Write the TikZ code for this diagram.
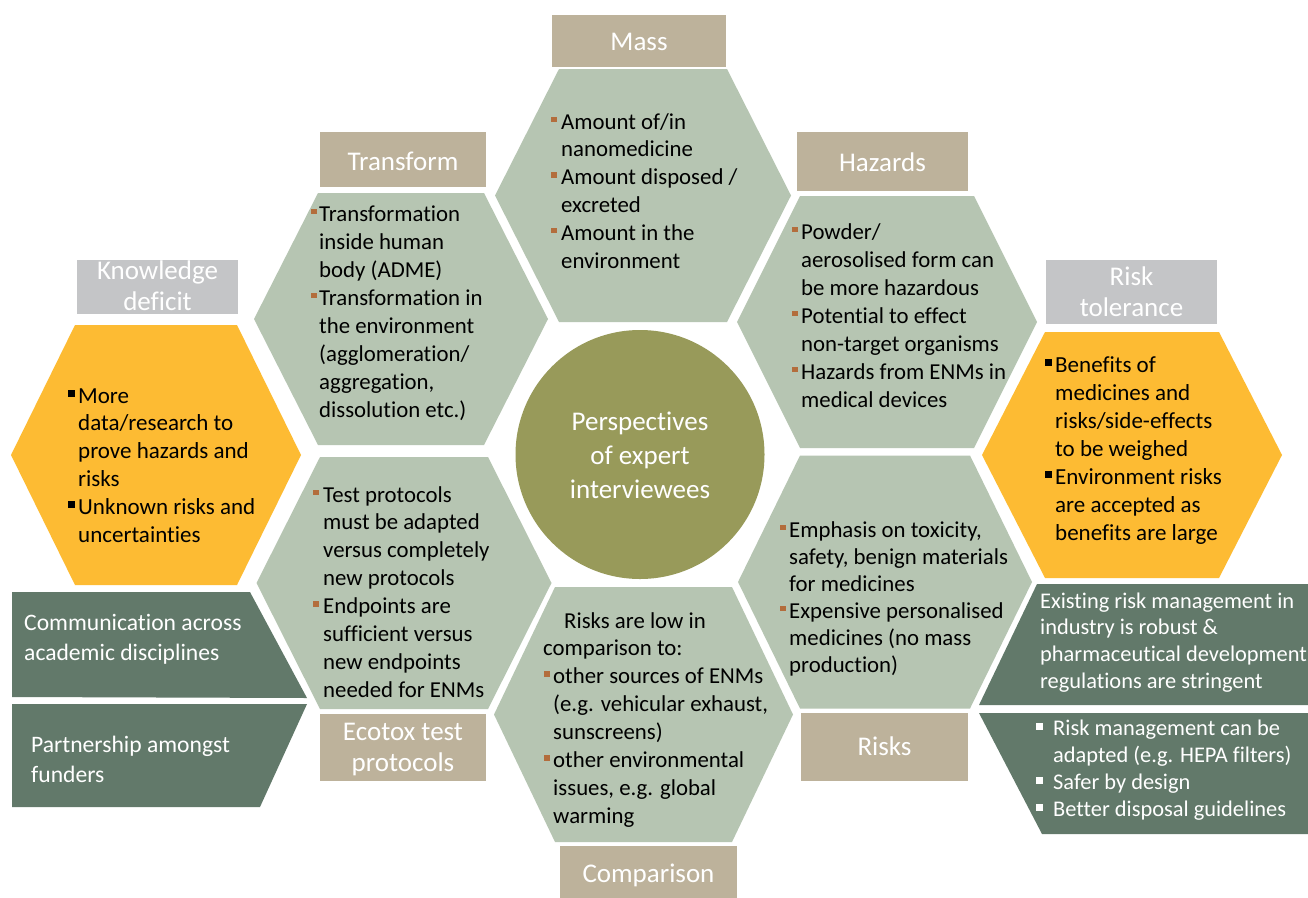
\documentclass[tikz,border=0pt]{standalone}
\usepackage{fontspec}
\setmainfont{Carlito}[Ligatures={TeX,NoCommon}]
\definecolor{sage}{HTML}{B6C5B2}
\definecolor{labeltan}{HTML}{BDB29B}
\definecolor{labelgray}{HTML}{C4C5C7}
\definecolor{gold}{HTML}{FDBB33}
\definecolor{darkgreen}{HTML}{62796A}
\definecolor{olivecirc}{HTML}{989A5A}
\definecolor{bulbrown}{HTML}{B36D3C}
% bullet: width of bullet box, colour, raise, size
\newcommand\bb[4]{\makebox[#1][l]{\textcolor{#2}{\rule[#3]{#4}{#4}}}}
\newcommand\sq[1]{\bb{#1}{bulbrown}{7pt}{5.5pt}}
\newcommand\ksq{\bb{10pt}{black}{6pt}{7pt}}
\newcommand\wsq{\bb{17pt}{white}{5.5pt}{7pt}}
\newcommand\ind[1]{\hspace*{#1}}
% hexagon: cx cy halfwidth halftop halfheight colour
\newcommand\hexcell[6]{\fill[#6] ({#1-#3},#2) -- ({#1-#4},{#2-#5}) -- ({#1+#4},{#2-#5}) -- ({#1+#3},#2) -- ({#1+#4},{#2+#5}) -- ({#1-#4},{#2+#5}) -- cycle;}
\begin{document}
\begin{tikzpicture}[x=1pt,y=-1pt,
  body/.style={anchor=base west, inner sep=0pt, text=black},
  lbl/.style={anchor=base, inner sep=0pt, text=white},
  tanbox/.style={fill=labeltan, inner sep=0pt},
  graybox/.style={fill=labelgray, inner sep=0pt}]
\useasboundingbox (0,0) rectangle (1308,897);
\fill[white] (0,0) rectangle (1308,897);

% ---------- hexagons ----------
\hexcell{643}{195.5}{148}{84}{126.5}{sage}    % Mass
\hexcell{401}{319}{147}{83}{126}{sage}        % Transform
\hexcell{887}{322}{150}{87}{126}{sage}        % Hazards
\hexcell{404}{583}{147.5}{84}{126}{sage}      % Ecotox
\hexcell{885}{582}{147}{85}{126.5}{sage}      % Risks
\hexcell{643.5}{714.5}{149.5}{88.5}{127.5}{sage} % Comparison
\hexcell{156}{455}{145}{81}{130}{gold}        % Knowledge deficit
\hexcell{1132}{455}{150}{87}{123}{gold}       % Risk tolerance

% ---------- dark green arrow pieces ----------
\fill[darkgreen] (12,592) -- (250,592) -- (307,698) -- (12,697) -- cycle;
\fill[darkgreen] (12,704) -- (307,704) -- (260,807) -- (12,807) -- cycle;
\fill[darkgreen] (1037,584) -- (1320,584) -- (1320,705) -- (979,705) -- cycle;
\fill[darkgreen] (979,713) -- (1320,713) -- (1320,834) -- (1042,834) -- cycle;

% ---------- centre circle ----------
\node[circle, fill=olivecirc, minimum size=249pt, inner sep=0pt] (centre) at (640,454.5) {};
\node[lbl, font=\fontsize{27}{34}\selectfont] (centretxt) at (640,430)
  {\parbox[t]{240pt}{\centering Perspectives\\of expert\\interviewees}};

% ---------- label boxes ----------
\node[tanbox, minimum width=174pt, minimum height=52pt] (massbox) at (639,41) {};
\node[tanbox, minimum width=166pt, minimum height=55pt] (transbox) at (403,159.5) {};
\node[tanbox, minimum width=171pt, minimum height=59pt] (hazbox) at (882.5,161.5) {};
\node[tanbox, minimum width=166pt, minimum height=67pt] (ecobox) at (403,747.5) {};
\node[tanbox, minimum width=167pt, minimum height=68pt] (riskbox) at (884.5,747) {};
\node[tanbox, minimum width=177pt, minimum height=60pt] (compbox) at (648.5,876) {};
\node[graybox, minimum width=161pt, minimum height=54pt] (kdbox) at (157.5,287) {};
\node[graybox, minimum width=171pt, minimum height=64pt] (rtbox) at (1131.5,292) {};

\begin{scope}[every node/.append style={font=\fontsize{27}{31.5}\selectfont}]
\node[lbl] (masslbl) at (639,50) {Mass};
\node[lbl] (translbl) at (403,170) {Transform};
\node[lbl] (hazlbl) at (882.5,171) {Hazards};
\node[lbl] (ecolbl) at (403,740) {\parbox[t]{200pt}{\centering Ecotox test\\protocols}};
\node[lbl] (risklbl) at (884.5,755) {Risks};
\node[lbl] (complbl) at (648.5,882) {Comparison};
\node[lbl] (kdlbl) at (157.5,279) {\parbox[t]{200pt}{\centering Knowledge\\deficit}};
\node[lbl] (rtlbl) at (1131.5,285) {\parbox[t]{200pt}{\centering Risk\\tolerance}};
\end{scope}

% ---------- hexagon texts ----------
\node[body, font=\fontsize{22.8}{27.8}\selectfont] (masstxt) at (551,129)
 {\parbox[t]{300pt}{\raggedright
 \sq{10pt}Amount of/in\\ \ind{10pt}nanomedicine\\
 \sq{10pt}Amount disposed /\\ \ind{10pt}excreted\\
 \sq{10pt}Amount in the\\ \ind{10pt}environment}};

\node[body, font=\fontsize{22.8}{28}\selectfont] (transtxt) at (311,221)
 {\parbox[t]{300pt}{\raggedright
 \sq{8pt}Transformation\\ \ind{8pt}inside human\\ \ind{8pt}body (ADME)\\
 \sq{8pt}Transformation in\\ \ind{8pt}the environment\\ \ind{8pt}(agglomeration/\\
 \ind{8pt}aggregation,\\ \ind{8pt}dissolution etc.)}};

\node[body, font=\fontsize{22.8}{28}\selectfont] (haztxt) at (792,239)
 {\parbox[t]{300pt}{\raggedright
 \sq{9pt}Powder/\\ \ind{9pt}aerosolised form can\\ \ind{9pt}be more hazardous\\
 \sq{9pt}Potential to effect\\ \ind{9pt}non-target organisms\\
 \sq{9pt}Hazards from ENMs in\\ \ind{9pt}medical devices}};

\node[body, font=\fontsize{22.8}{27.9}\selectfont] (ecotxt) at (313,502)
 {\parbox[t]{300pt}{\raggedright
 \sq{10pt}Test protocols\\ \ind{10pt}must be adapted\\ \ind{10pt}versus completely\\ \ind{10pt}new protocols\\
 \sq{10pt}Endpoints are\\ \ind{10pt}sufficient versus\\ \ind{10pt}new endpoints\\ \ind{10pt}needed for ENMs}};

\node[body, font=\fontsize{22.8}{27}\selectfont] (risktxt) at (780,537)
 {\parbox[t]{300pt}{\raggedright
 \sq{9pt}Emphasis on toxicity,\\ \ind{9pt}safety, benign materials\\ \ind{9pt}for medicines\\
 \sq{9pt}Expensive personalised\\ \ind{9pt}medicines (no mass\\ \ind{9pt}production)}};

\node[body, font=\fontsize{22.8}{27.9}\selectfont] (comptxt) at (543,628)
 {\parbox[t]{300pt}{\raggedright
 \ind{21pt}Risks are low in\\ comparison to:\\
 \ind{1pt}\sq{9pt}other sources of ENMs\\ \ind{10pt}(e.g. vehicular exhaust,\\ \ind{10pt}sunscreens)\\
 \ind{1pt}\sq{9pt}other environmental\\ \ind{10pt}issues, e.g. global\\ \ind{10pt}warming}};

\node[body, font=\fontsize{23}{27.8}\selectfont] (kdtxt) at (68,403)
 {\parbox[t]{300pt}{\raggedright
 \ksq More\\ \ind{10pt}data/research to\\ \ind{10pt}prove hazards and\\ \ind{10pt}risks\\
 \ksq Unknown risks and\\ \ind{10pt}uncertainties}};

\node[body, font=\fontsize{23}{28}\selectfont] (rttxt) at (1045,372)
 {\parbox[t]{300pt}{\raggedright
 \ksq Benefits of\\ \ind{10pt}medicines and\\ \ind{10pt}risks/side-effects\\ \ind{10pt}to be weighed\\
 \ksq Environment risks\\ \ind{10pt}are accepted as\\ \ind{10pt}benefits are large}};

% ---------- dark green texts ----------
\node[body, text=white, font=\fontsize{23.6}{30}\selectfont] (comtxt) at (24,630)
 {\parbox[t]{300pt}{\raggedright Communication across\\academic disciplines}};
\node[body, text=white, font=\fontsize{23.6}{30}\selectfont] (parttxt) at (31,752)
 {\parbox[t]{300pt}{\raggedright Partnership amongst\\funders}};
\node[body, text=white, font=\fontsize{22.4}{26.8}\selectfont] (exitxt) at (1040,608)
 {\parbox[t]{320pt}{\raggedright Existing risk management in\\industry is robust \&\\pharmaceutical development\\regulations are stringent}};
\node[body, text=white, font=\fontsize{22.4}{27.3}\selectfont] (rmtxt) at (1036,735)
 {\parbox[t]{320pt}{\raggedright
 \wsq Risk management can be\\ \ind{17pt}adapted (e.g. HEPA filters)\\
 \wsq Safer by design\\ \wsq Better disposal guidelines}};
\end{tikzpicture}
\end{document}
